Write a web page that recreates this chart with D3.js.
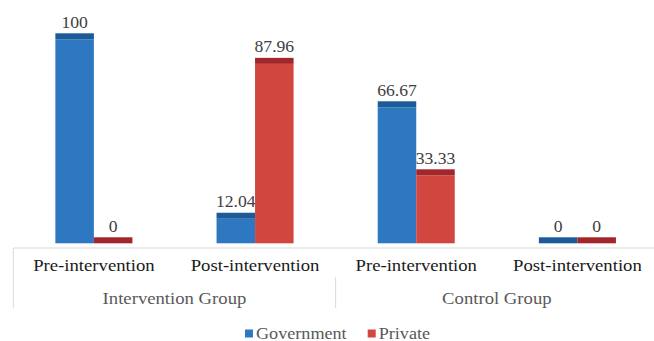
<!DOCTYPE html>
<html>
<head>
<meta charset="utf-8">
<script src="https://cdn.jsdelivr.net/npm/d3@7"></script>
<style>
  body { margin: 0; background: #fff; }
  svg text { font-family: 'Liberation Serif', 'Times New Roman', 'DejaVu Serif', serif; }
</style>
</head>
<body>
<script>
'use strict'
// data
const categories = ["IG-Pre", "IG-Post", "CG-Pre", "CG-Post"];
const categoryLabels = ["Pre-intervention", "Post-intervention", "Pre-intervention", "Post-intervention"];
const groups = ["Intervention Group", "Control Group"];
const groupSpan = [[0, 1], [2, 3]];
const series = ["Government", "Private"];
const government = [100, 12.04, 66.67, 0];
const privateVals = [0, 87.96, 33.33, 0];
const valueLabels = [["100", "0"], ["12.04", "87.96"], ["66.67", "33.33"], ["0", "0"]];

const w = 654;
const h = 341;
const baseline = 243.3;
const axisY = 248;
const cap = 6;
const stretch = 1.1;
const serif = "'Liberation Serif', 'Times New Roman', 'DejaVu Serif', serif";

const colors = { Government: "#2e78c2", Private: "#d1463f" };
const capColors = { Government: "#1c5a98", Private: "#a2262a" };

const svg = d3.select("body")
	.append("svg")
	.attr("width", w)
	.attr("height", h)
	.attr("font-family", serif);

const x0 = d3.scaleBand()
	.domain(categories)
	.range([13.3, 658])
	.paddingInner(0.522)
	.paddingOuter(0.261);

const x1 = d3.scaleBand()
	.domain(series)
	.range([0, x0.bandwidth()]);

const yScale = d3.scaleLinear()
	.domain([0, 100])
	.range([baseline, 39.3]);

const rows = categories.map((c, i) => ({
	cat: c,
	vals: [
		{ key: "Government", v: government[i], label: valueLabels[i][0] },
		{ key: "Private", v: privateVals[i], label: valueLabels[i][1] }
	]
}));

const g = svg.selectAll("g.cat")
	.data(rows)
	.enter()
	.append("g")
	.attr("class", "cat")
	.attr("transform", (d) => "translate(" + x0(d.cat) + ",0)");

const bars = g.selectAll("g.bar")
	.data((d) => d.vals)
	.enter()
	.append("g")
	.attr("class", "bar");

// bar body
bars.append("rect")
	.attr("x", (d) => x1(d.key))
	.attr("y", (d) => yScale(d.v))
	.attr("width", x1.bandwidth())
	.attr("height", (d) => baseline - yScale(d.v))
	.attr("fill", (d) => colors[d.key]);

// darker top cap
bars.append("rect")
	.attr("x", (d) => x1(d.key))
	.attr("y", (d) => yScale(d.v) - cap)
	.attr("width", x1.bandwidth())
	.attr("height", cap)
	.attr("fill", (d) => capColors[d.key]);

bars.append("text")
	.attr("transform", (d) => "translate(" + (x1(d.key) + x1.bandwidth() / 2) + "," + (yScale(d.v) - cap - 5.6) + ") scale(" + stretch + ",1)")
	.attr("text-anchor", "middle")
	.attr("font-family", serif)
	.attr("font-size", 16)
	.attr("fill", "#404040")
	.text((d) => d.label);

// category axis
const axisColor = "#d9d9d9";
svg.append("line")
	.attr("x1", 13.3).attr("x2", w)
	.attr("y1", axisY).attr("y2", axisY)
	.attr("stroke", axisColor);

svg.append("line")
	.attr("x1", 13.3).attr("x2", 13.3)
	.attr("y1", axisY).attr("y2", 308)
	.attr("stroke", axisColor);

const mid = x0(categories[2]) - x0.step() * x0.paddingInner() / 2;
svg.append("line")
	.attr("x1", mid).attr("x2", mid)
	.attr("y1", 277).attr("y2", 308)
	.attr("stroke", axisColor);

svg.selectAll("text.catlabel")
	.data(categories)
	.enter()
	.append("text")
	.attr("class", "catlabel")
	.attr("transform", (d) => "translate(" + (x0(d) + x0.bandwidth() / 2) + ",270.7) scale(" + stretch + ",1)")
	.attr("text-anchor", "middle")
	.attr("font-family", serif)
	.attr("font-size", 17)
	.attr("fill", "#1a1a1a")
	.text((d, i) => categoryLabels[i]);

svg.selectAll("text.grouplabel")
	.data(groups)
	.enter()
	.append("text")
	.attr("class", "grouplabel")
	.attr("transform", (d, i) => {
		const a = x0(categories[groupSpan[i][0]]) + x0.bandwidth() / 2;
		const b = x0(categories[groupSpan[i][1]]) + x0.bandwidth() / 2;
		return "translate(" + ((a + b) / 2) + ",304) scale(" + stretch + ",1)";
	})
	.attr("text-anchor", "middle")
	.attr("font-family", serif)
	.attr("font-size", 17)
	.attr("fill", "#595959")
	.text((d) => d);

// legend
const legendX = [245, 367.7];
const legend = svg.selectAll("g.legend")
	.data(series)
	.enter()
	.append("g")
	.attr("class", "legend")
	.attr("transform", (d, i) => "translate(" + legendX[i] + ",329.5)");

legend.append("rect")
	.attr("width", 8)
	.attr("height", 8)
	.attr("fill", (d) => colors[d]);

legend.append("text")
	.attr("transform", "translate(11,9) scale(" + stretch + ",1)")
	.attr("font-family", serif)
	.attr("font-size", 16.5)
	.attr("fill", "#595959")
	.text((d) => d);
</script>
</body>
</html>
